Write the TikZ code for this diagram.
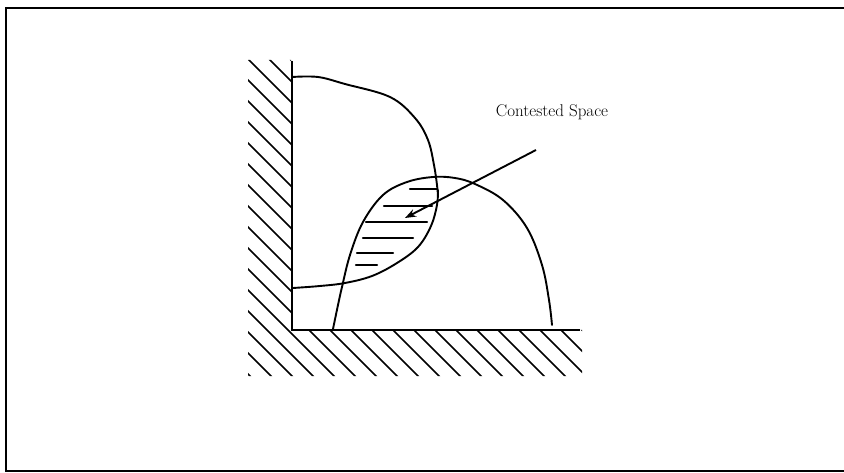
\documentclass[tikz,border=0pt]{standalone}
\usepackage{tikz}
\usetikzlibrary{arrows.meta}

\begin{document}
\begin{tikzpicture}[
  x=1pt, y=-1pt,
  >=Stealth,
  frameline/.style={line width=2.2pt, draw=black},
  wallline/.style={line width=2.2pt, draw=black},
  hatchline/.style={line width=1.6pt, draw=black},
  regionline/.style={line width=1.9pt, draw=black, line join=round, line cap=round},
  lensline/.style={line width=2.2pt, draw=black, line cap=round},
  arrowline/.style={-{Stealth[length=11pt, width=8pt]}, line width=1.9pt, draw=black},
  labeltext/.style={font=\fontsize{17}{20}\selectfont, inner sep=0pt}
]
  \useasboundingbox (0,0) rectangle (844,473);

  % Page frame (right side runs off the picture)
  \draw[frameline] (860,8) -- (6,8) -- (6,471) -- (860,471);

  % Hatched walls
  \begin{scope}
    \clip (248,60) -- (291,60) -- (291,330) -- (582,330) -- (582,376) -- (248,376) -- cycle;
    \foreach \c in {-420,-399,...,340} {
      \draw[hatchline] (\c,0) -- ++(420,420);
    }
  \end{scope}
  \draw[wallline] (292,61) -- (292,330) -- (580,330);

  % Upper region against the wall
  \draw[regionline] plot[smooth, tension=0.6] coordinates {(292,77) (318,77) (345,84) (390,97) (415,118) (428,140) (434,165) (437,185) (438,196)};
  \draw[regionline] plot[smooth, tension=0.6] coordinates {(293,288) (320,286) (345,283) (372,276) (397,263) (418,247) (431,226) (437,205) (438,190)};

  % Lower region against the floor
  \draw[regionline] plot[smooth, tension=0.6] coordinates {(333,329) (338,305) (342,287) (350,255) (363,222) (383,195) (407,182) (433,177) (455,178) (475,184) (503,200) (527,228) (542,265) (549,300) (552,325)};

  % Contested space shading
  \foreach \ya/\xa/\xb in {189/410/437, 206/384/432, 222/366/427, 238/363/413, 253/357/393, 265/356/377} {
    \draw[lensline] (\xa,\ya) -- (\xb,\ya);
  }

  % Label and pointer
  \node[labeltext] (contested) at (552,112) {Contested Space};
  \coordinate (tail) at (536,150);
  \coordinate (tip) at (405,218);
  \draw[arrowline] (tail) -- (tip);
\end{tikzpicture}
\end{document}
